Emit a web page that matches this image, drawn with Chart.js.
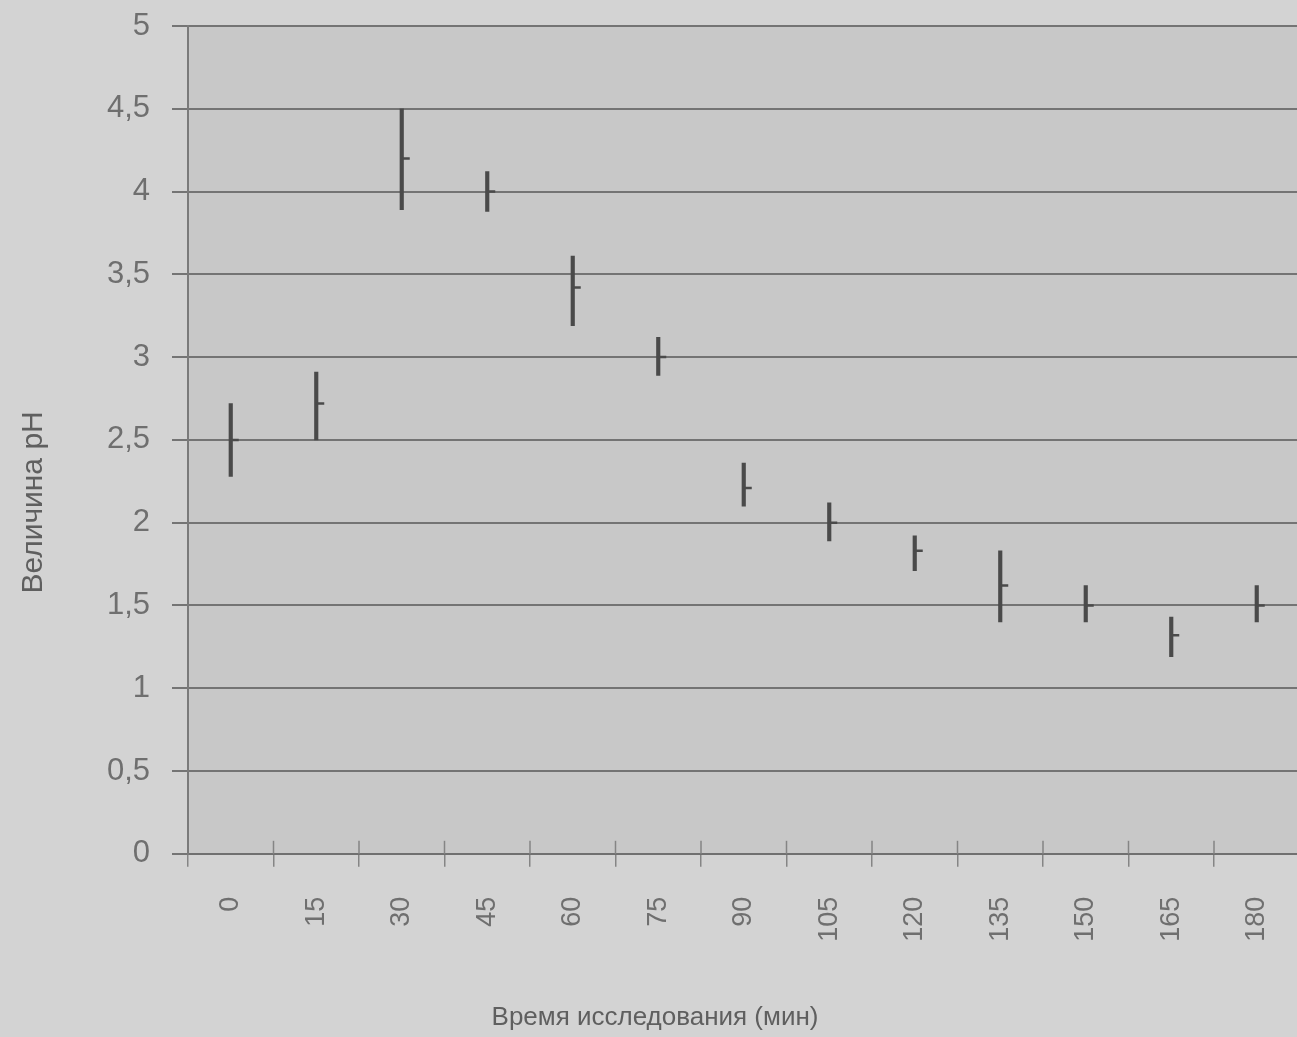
<!DOCTYPE html>
<html>
<head>
<meta charset="utf-8">
<script src="https://cdn.jsdelivr.net/npm/chart.js@4.4.0/dist/chart.umd.min.js"></script>
<style>
  body { margin: 0; background: #d3d3d3; overflow: hidden; }
  canvas { display: block; }
</style>
</head>
<body>
<canvas id="grafico" width="1310" height="1037"></canvas>
<script>
const minutos = ["0", "15", "30", "45", "60", "75", "90", "105", "120", "135", "150", "165", "180"];
const phMax = [2.72, 2.91, 4.5, 4.12, 3.61, 3.12, 2.36, 2.12, 1.92, 1.83, 1.62, 1.43, 1.62];
const phMin = [2.28, 2.5, 3.89, 3.88, 3.19, 2.89, 2.1, 1.89, 1.71, 1.4, 1.4, 1.19, 1.4];
const phCierre = [2.5, 2.72, 4.2, 4.0, 3.42, 3.0, 2.21, 2.0, 1.83, 1.62, 1.5, 1.32, 1.5];

const gris = "#6f6f6f";
const fuente = "'Liberation Sans', Arial, sans-serif";

// fondo del area y marcas del eje x hacia arriba
const fondo = {
  id: "fondo",
  beforeDraw(chart) {
    const { ctx, chartArea: a } = chart;
    ctx.save();
    ctx.fillStyle = "#c8c8c8";
    ctx.fillRect(a.left, a.top, a.right - a.left, a.bottom - a.top);
    ctx.restore();
  },
  afterDraw(chart) {
    const { ctx, chartArea: a, scales } = chart;
    const x = scales.x;
    ctx.save();
    ctx.strokeStyle = "#858585";
    ctx.lineWidth = 1.5;
    for (let i = 1; i <= minutos.length; i++) {
      const px = x.getPixelForValue(i - 0.5);
      ctx.beginPath();
      ctx.moveTo(px, a.bottom - 13);
      ctx.lineTo(px, a.bottom);
      ctx.stroke();
    }
    ctx.restore();
  }
};

const ctx = document.getElementById("grafico").getContext("2d");

new Chart(ctx, {
  type: "bar",
  data: {
    labels: minutos,
    datasets: [
      {
        label: "Max-Min",
        data: minutos.map((m, i) => [phMin[i], phMax[i]]),
        backgroundColor: "#4a4a4a",
        barThickness: 3.5,
        order: 2
      },
      {
        type: "line",
        label: "pH",
        data: phCierre,
        showLine: false,
        pointStyle: "dash",
        pointRadius: 8,
        pointBorderWidth: 2.5,
        borderColor: "#4a4a4a",
        backgroundColor: "#4a4a4a",
        order: 1
      }
    ]
  },
  options: {
    responsive: false,
    animation: false,
    layout: { padding: { top: 26, right: 0, left: 0, bottom: 0 } },
    plugins: {
      legend: { display: false },
      tooltip: { enabled: false },
      title: {
        display: true,
        position: "bottom",
        text: "Время исследования (мин)",
        color: "#5f5f5f",
        font: { family: fuente, size: 26, weight: "normal" },
        padding: { top: 10, bottom: 4 }
      }
    },
    scales: {
      x: {
        afterFit(scale) {
          scale.height = 138;
          scale.paddingLeft = 0;
          scale.paddingRight = 0;
        },
        grid: {
          drawOnChartArea: false,
          drawTicks: true,
          tickLength: 13,
          color: "#858585",
          lineWidth: 1.5
        },
        border: { color: "#707070", width: 2 },
        ticks: {
          minRotation: 90,
          maxRotation: 90,
          autoSkip: false,
          padding: 30,
          color: gris,
          font: { family: fuente, size: 27 }
        }
      },
      y: {
        min: 0,
        max: 5,
        afterFit(scale) {
          scale.width = 188;
          scale.paddingTop = 0;
          scale.paddingBottom = 0;
        },
        grid: {
          color: "#747474",
          lineWidth: 2,
          tickLength: 16
        },
        border: { color: "#7a7a7a", width: 2 },
        ticks: {
          stepSize: 0.5,
          padding: 22,
          color: gris,
          font: { family: fuente, size: 31 },
          callback: v => String(v).replace(".", ",")
        },
        title: {
          display: true,
          text: "Величина pH" + "               ",
          color: "#5f5f5f",
          font: { family: fuente, size: 30 },
          padding: { top: 16, bottom: 0 }
        }
      }
    }
  },
  plugins: [fondo]
});
</script>
</body>
</html>
